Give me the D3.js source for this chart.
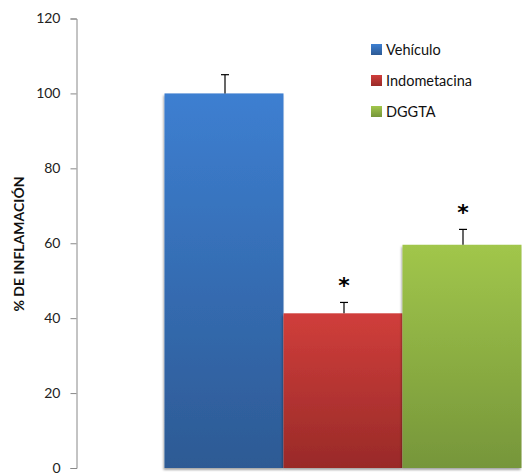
<!DOCTYPE html>
<html lang="es">
<head>
<meta charset="utf-8">
<style>
  html, body { margin: 0; padding: 0; background: #fff; }
  svg { display: block; font-family: Lato, "Open Sans", sans-serif; }
</style>
</head>
<body>
<script src="https://d3js.org/d3.v7.min.js"></script>
<script>
// datos
var series = ['Vehículo', 'Indometacina', 'DGGTA'];
var values = [100, 41.3, 59.6];
var errors = [5, 2.9, 4.1];
var signif = [false, true, true];
var yTicks = [0, 20, 40, 60, 80, 100, 120];
var colTop = ['#3d7fd1', '#d03e3b', '#a1c64b'];
var colBottom = ['#2d5a94', '#992a28', '#76963a'];

var width = 522, height = 473;

var svg = d3.select('body').append('svg')
  .attr('width', width)
  .attr('height', height);

var defs = svg.append('defs');
series.forEach(function(s, i) {
  var g = defs.append('linearGradient')
    .attr('id', 'grad' + i)
    .attr('x1', 0).attr('y1', 0).attr('x2', 0).attr('y2', 1);
  g.append('stop').attr('offset', '0%').attr('stop-color', colTop[i]);
  g.append('stop').attr('offset', '100%').attr('stop-color', colBottom[i]);
});
var f = defs.append('filter').attr('id', 'shadow')
  .attr('x', '-10%').attr('y', '-10%').attr('width', '120%').attr('height', '120%');
f.append('feDropShadow')
  .attr('dx', -1).attr('dy', 2).attr('stdDeviation', 1.2)
  .attr('flood-color', '#000').attr('flood-opacity', 0.35);

var y = d3.scaleLinear().domain([0, 120]).range([468, 18.5]);
var x = d3.scaleBand().domain(series).range([164.5, 521.5]).padding(0);

// eje y
var axis = svg.append('g')
  .attr('transform', 'translate(76.5,0)')
  .call(d3.axisLeft(y).tickValues(yTicks).tickSize(6).tickPadding(10));
axis.select('.domain').attr('stroke', '#888');
axis.selectAll('.tick line').attr('stroke', '#888');
axis.selectAll('.tick text')
  .attr('font-size', 14)
  .attr('fill', '#222')
  .attr('font-family', 'Lato, sans-serif');

svg.append('text')
  .attr('transform', 'translate(24,' + 244 + ') rotate(-90)')
  .attr('text-anchor', 'middle')
  .attr('font-size', 14)
  .attr('font-weight', 'bold')
  .attr('fill', '#111')
  .text('% DE INFLAMACIÓN');

// barras
svg.selectAll('rect.bar')
  .data(series)
  .enter().append('rect')
  .attr('class', 'bar')
  .attr('x', d => x(d))
  .attr('width', x.bandwidth())
  .attr('y', (d, i) => y(values[i]))
  .attr('height', (d, i) => y(0) - y(values[i]))
  .attr('fill', (d, i) => 'url(#grad' + i + ')')
  .attr('filter', 'url(#shadow)');

// barras de error (solo hacia arriba)
var err = svg.selectAll('g.err')
  .data(series)
  .enter().append('g')
  .attr('class', 'err')
  .attr('stroke', '#000')
  .attr('stroke-width', 1.2);
err.append('line')
  .attr('x1', d => x(d) + x.bandwidth() / 2 + 1)
  .attr('x2', d => x(d) + x.bandwidth() / 2 + 1)
  .attr('y1', (d, i) => y(values[i]))
  .attr('y2', (d, i) => y(values[i] + errors[i]));
err.append('line')
  .attr('x1', d => x(d) + x.bandwidth() / 2 - 3)
  .attr('x2', d => x(d) + x.bandwidth() / 2 + 5)
  .attr('y1', (d, i) => y(values[i] + errors[i]))
  .attr('y2', (d, i) => y(values[i] + errors[i]));

// asteriscos
svg.selectAll('text.star')
  .data(series.filter((d, i) => signif[i]))
  .enter().append('text')
  .attr('class', 'star')
  .attr('x', d => x(d) + x.bandwidth() / 2 + 1)
  .attr('y', d => {
    var i = series.indexOf(d);
    return y(values[i] + errors[i]) - 9;
  })
  .attr('text-anchor', 'middle')
  .attr('font-size', 22)
  .attr('font-weight', 'bold')
  .attr('font-family', 'DejaVu Sans, sans-serif')
  .text('*');

// leyenda
var leg = svg.selectAll('g.leg')
  .data(series)
  .enter().append('g')
  .attr('class', 'leg')
  .attr('transform', (d, i) => 'translate(371,' + (44 + i * 31) + ')');
leg.append('rect')
  .attr('width', 11).attr('height', 11)
  .attr('fill', (d, i) => 'url(#grad' + i + ')');
leg.append('text')
  .attr('x', 15)
  .attr('y', 11)
  .attr('font-size', 14.5)
  .attr('fill', '#111')
  .text(d => d);
</script>
</body>
</html>
